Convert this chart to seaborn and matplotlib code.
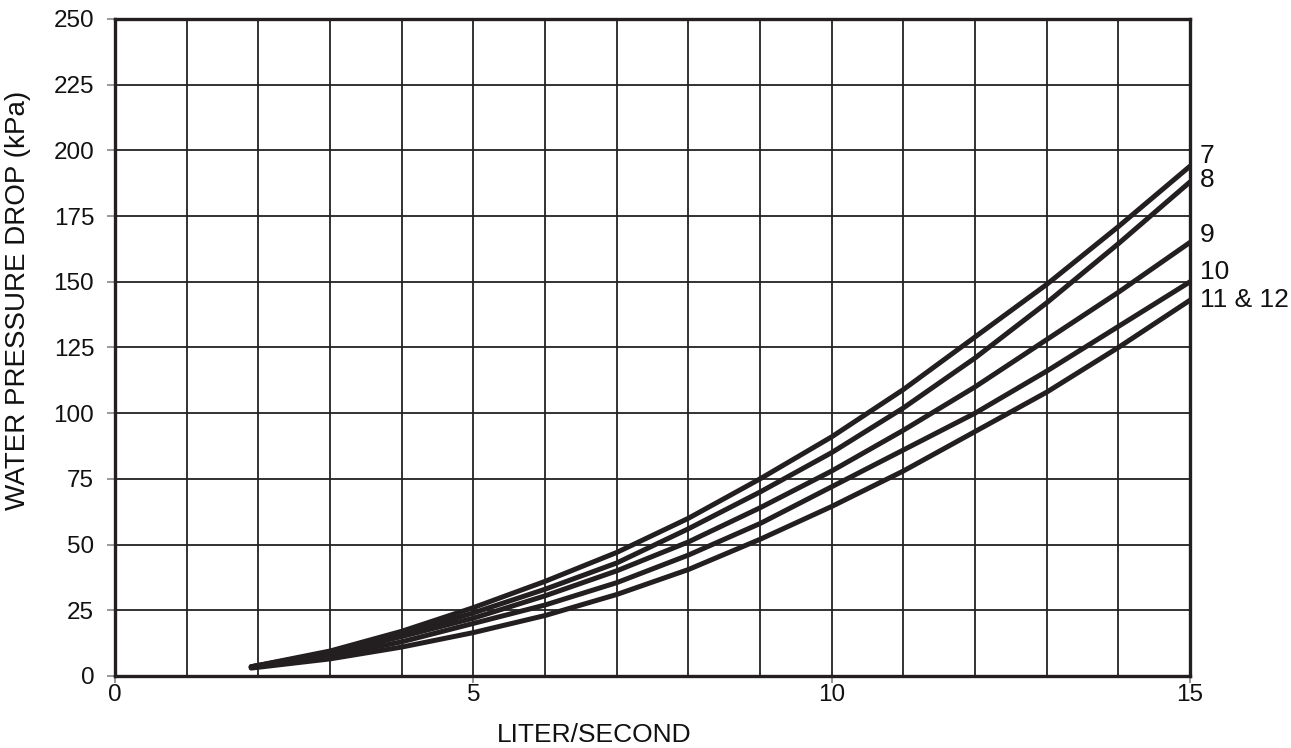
import matplotlib
matplotlib.use("Agg")
import matplotlib.pyplot as plt
import seaborn as sns
import pandas as pd
from matplotlib.ticker import MultipleLocator

# ---- data ----
flow = [1.9, 3, 4, 5, 6, 7, 8, 9, 10, 11, 12, 13, 14, 15]
model_labels = ["7", "8", "9", "10", "11 & 12"]
drop_7 = [3.5, 9.5, 17, 26, 36, 47, 60, 75, 91, 109, 129, 149, 171, 194]
drop_8 = [3.5, 9, 16, 24, 33, 43, 56, 70, 85, 102, 121, 142, 164.5, 188]
drop_9 = [3.5, 8.5, 15, 22, 30.5, 40, 51, 64, 78, 93.5, 110, 128, 146, 165]
drop_10 = [3.2, 7.5, 13, 20, 27, 35.5, 46, 58, 72, 86, 100, 116, 133, 150]
drop_11_12 = [3, 6.5, 11, 16.5, 23, 31, 40.5, 52, 64.5, 78, 93, 108, 125, 143]
x_ticks = [0, 5, 10, 15]
y_ticks = [0, 25, 50, 75, 100, 125, 150, 175, 200, 225, 250]

series = [drop_7, drop_8, drop_9, drop_10, drop_11_12]
df = pd.concat(
    [pd.DataFrame({"flow": flow, "drop": s, "model": m}) for s, m in zip(series, model_labels)],
    ignore_index=True,
)

# ---- styling ----
sns.set_theme(style="white")
plt.rcParams["font.family"] = ["Liberation Sans", "DejaVu Sans"]

fig = plt.figure(figsize=(12.91, 7.48), dpi=100)
ax = fig.add_axes([0.0891, 0.0963, 0.8327, 0.8783])

ink = "#231f20"
sns.lineplot(data=df, x="flow", y="drop", hue="model", hue_order=model_labels,
             palette=[ink] * len(model_labels), linewidth=3.6, legend=False,
             ax=ax, solid_capstyle="round", solid_joinstyle="round", zorder=3)

ax.set_xlim(0, 15)
ax.set_ylim(0, 250)
ax.xaxis.set_minor_locator(MultipleLocator(1))
ax.yaxis.set_minor_locator(MultipleLocator(25))
ax.set_xticks(x_ticks)
ax.set_yticks(y_ticks)
ax.grid(which="both", color="#222222", linewidth=1.3, zorder=1)
ax.set_axisbelow(True)

for sp in ax.spines.values():
    sp.set_visible(True)
    sp.set_color(ink)
    sp.set_linewidth(2.4)

ax.tick_params(axis="both", which="major", direction="out", width=1.2,
               color="#888888", labelsize=17.5, labelcolor="#111111",
               left=True, bottom=True)
ax.tick_params(axis="y", which="major", length=6, pad=9)
ax.tick_params(axis="x", which="major", length=5, pad=1)
ax.tick_params(axis="both", which="minor", length=0)

ax.set_xlabel("LITER/SECOND", fontsize=19, color="#111111")
ax.set_ylabel("WATER PRESSURE DROP (kPa)", fontsize=20, color="#111111")
ax.xaxis.set_label_coords(0.4456, -0.0715)
ax.yaxis.set_label_coords(-0.078, 0.571)

# curve labels at the right end
label_dy = [10, 2, 7, 10, 0]
for s, m, dy in zip(series, model_labels, label_dy):
    ax.annotate(m, xy=(flow[-1], s[-1]), xytext=(10, dy), textcoords="offset pixels",
                ha="left", va="center", fontsize=19, color="#111111",
                annotation_clip=False)

fig.savefig("out.png", dpi=100)
